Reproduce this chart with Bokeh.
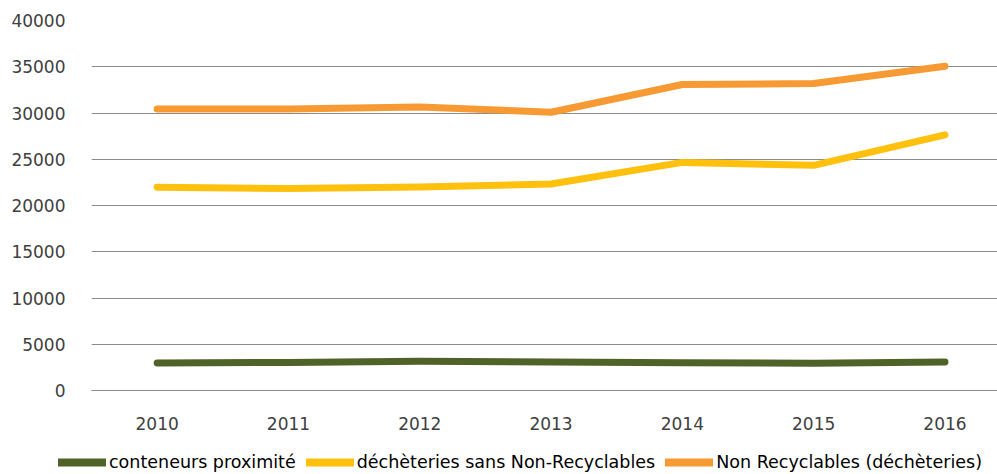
from bokeh.plotting import figure
from bokeh.models import Range1d, FixedTicker, Legend, LegendItem
from bokeh.layouts import column, row
from bokeh.embed import file_html
from bokeh.resources import INLINE

years = [2010, 2011, 2012, 2013, 2014, 2015, 2016]
year_labels = ["2010", "2011", "2012", "2013", "2014", "2015", "2016"]
conteneurs = [2980, 3040, 3150, 3080, 3010, 2940, 3080]
decheteries_sans_nr = [21970, 21830, 22000, 22330, 24660, 24340, 27630]
non_recyclables = [30430, 30430, 30650, 30080, 33080, 33180, 35050]
series_names = ["conteneurs proximité", "déchèteries sans Non-Recyclables", "Non Recyclables (déchèteries)"]
y_ticks = [0, 5000, 10000, 15000, 20000, 25000, 30000, 35000, 40000]

colors = ["#4F6228", "#FFC10E", "#F79A33"]
FONT = "DejaVu Sans"

p = figure(output_backend="svg", toolbar_location=None,
           width=997, height=432,
           min_border_left=91, min_border_top=20, min_border_right=0, min_border_bottom=40,
           x_range=Range1d(2009.5, 2016.4), y_range=Range1d(0, 40000))
p.outline_line_color = None
p.background_fill_color = "white"

for vals, col in zip([conteneurs, decheteries_sans_nr, non_recyclables], colors):
    p.line(years, vals, line_color=col, line_width=7, line_cap="round", line_join="round")

p.xgrid.grid_line_color = None
p.ygrid.grid_line_color = "#8C8C8C"
p.ygrid.grid_line_width = 1
p.ygrid.ticker = FixedTicker(ticks=y_ticks)

p.xaxis.ticker = FixedTicker(ticks=years)
p.xaxis.major_label_overrides = {y: l for y, l in zip(years, year_labels)}
p.xaxis.axis_line_color = "#8C8C8C"
p.xaxis.major_tick_line_color = None
p.xaxis.minor_tick_line_color = None
p.xaxis.major_label_standoff = 20
p.xaxis.major_label_text_font = FONT
p.xaxis.major_label_text_font_size = "17px"
p.xaxis.major_label_text_color = "#404040"

p.yaxis.ticker = FixedTicker(ticks=y_ticks)
p.yaxis.axis_line_color = None
p.yaxis.major_tick_line_color = None
p.yaxis.minor_tick_line_color = None
p.yaxis.major_label_standoff = 20
p.yaxis.major_label_text_font = FONT
p.yaxis.major_label_text_font_size = "17px"
p.yaxis.major_label_text_color = "#404040"

# legend strip below the chart (key lines sit outside its visible range)
lg = figure(output_backend="svg", toolbar_location=None, width=997, height=42,
            min_border_left=0, min_border_right=0, min_border_top=0, min_border_bottom=0,
            x_axis_type=None, y_axis_type=None,
            x_range=Range1d(0, 1), y_range=Range1d(0, 1))
lg.outline_line_color = None
lg.grid.grid_line_color = None
keys = [lg.line([-5, -4], [-5, -5], line_color=c, line_width=8, line_cap="round") for c in colors]
legend = Legend(items=[LegendItem(label=n, renderers=[r]) for n, r in zip(series_names, keys)],
                orientation="horizontal", location=(58, 2),
                glyph_width=48, glyph_height=20, label_standoff=3, spacing=10,
                padding=0, margin=0, border_line_color=None, background_fill_alpha=0,
                label_text_font=FONT, label_text_font_size="17.5px", label_text_color="#000000")
lg.add_layout(legend, "center")

open("out.html", "w").write(file_html(column(p, row(lg), spacing=0), INLINE))
